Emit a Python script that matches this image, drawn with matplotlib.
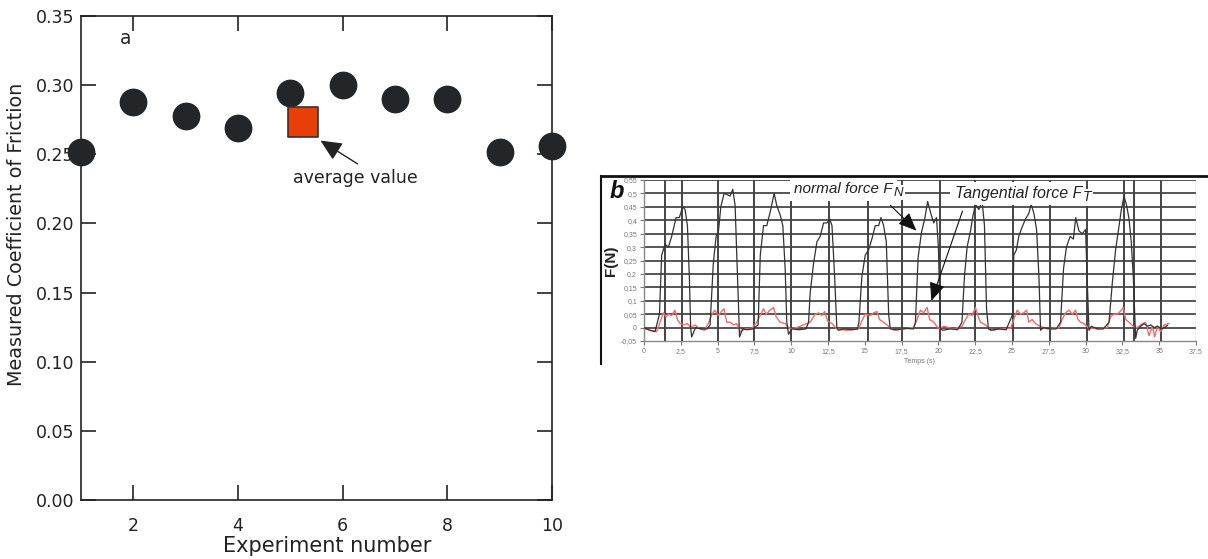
import matplotlib
matplotlib.use("Agg")
import matplotlib.pyplot as plt
from matplotlib.lines import Line2D
from matplotlib.ticker import FuncFormatter

plt.rcParams['font.family'] = ['Liberation Sans', 'DejaVu Sans']

# ---------------- Panel a data ----------------
experiments = [1, 2, 3, 4, 5, 6, 7, 8, 9, 10]
friction = [0.252, 0.288, 0.278, 0.269, 0.294, 0.300, 0.290, 0.290, 0.252, 0.256]
avg_x = 5.25
avg_y = 0.273
a_xticks = [2, 4, 6, 8, 10]
a_yticks = [0.00, 0.05, 0.10, 0.15, 0.20, 0.25, 0.30, 0.35]

# ---------------- Panel b data ----------------
fn_t = [0.0, 0.4, 0.75, 1.05, 1.2, 1.43, 1.66, 1.88, 2.18, 2.4, 2.63, 2.79, 2.95, 3.08, 3.17, 3.24, 3.5, 3.9, 4.3,
        4.49, 4.71, 4.9, 5.06, 5.22, 5.44, 5.67, 5.85, 6.03, 6.19, 6.35, 6.49, 6.7, 7.0, 7.4,
        7.75, 7.9, 8.12, 8.34, 8.57, 8.84, 9.02, 9.25, 9.43, 9.59, 9.7, 9.82, 10.04, 10.5, 11.0,
        11.18, 11.29, 11.52, 11.75, 11.97, 12.2, 12.43, 12.61, 12.77, 12.95, 13.1, 13.2, 13.6, 14.1, 14.5,
        14.6, 14.8, 15.03, 15.26, 15.48, 15.71, 15.94, 16.1, 16.28, 16.46, 16.62, 16.73, 17.2, 17.8, 18.3,
        18.44, 18.62, 18.85, 19.07, 19.27, 19.46, 19.68, 19.87, 20.0, 20.14, 20.3, 20.8, 21.3,
        21.6, 21.77, 21.95, 22.18, 22.36, 22.52, 22.75, 22.97, 23.13, 23.27, 23.4, 23.6, 24.1, 24.6,
        25.05, 25.12, 25.3, 25.46, 25.69, 25.92, 26.14, 26.3, 26.49, 26.67, 26.83, 26.94, 27.12, 27.6, 28.0,
        28.3, 28.5, 28.7, 28.95, 29.17, 29.33, 29.55, 29.78, 30.0, 30.1, 30.23, 30.39, 30.8, 31.2,
        31.59, 31.82, 32.04, 32.27, 32.43, 32.61, 32.79, 32.95, 33.1, 33.24, 33.4, 33.51, 33.74, 33.97,
        34.2, 34.42, 34.65, 34.88, 35.2, 35.56]
fn_v = [0.0, -0.01, -0.015, 0.05, 0.27, 0.31, 0.30, 0.34, 0.41, 0.41, 0.45, 0.44, 0.38, 0.19, 0.0, -0.035, 0.0, -0.005, -0.005,
        0.01, 0.24, 0.34, 0.36, 0.45, 0.50, 0.495, 0.49, 0.515, 0.455, 0.19, -0.035, -0.005, -0.008, -0.005,
        0.01, 0.27, 0.38, 0.38, 0.43, 0.50, 0.455, 0.42, 0.38, 0.22, 0.02, -0.025, -0.005, -0.008, -0.005,
        0.02, 0.13, 0.24, 0.32, 0.34, 0.39, 0.39, 0.405, 0.38, 0.19, 0.0, -0.01, -0.005, -0.008, -0.005,
        0.02, 0.19, 0.27, 0.29, 0.33, 0.38, 0.38, 0.41, 0.38, 0.32, 0.05, -0.005, -0.008, -0.003, -0.005,
        0.02, 0.26, 0.355, 0.405, 0.47, 0.43, 0.39, 0.41, 0.30, -0.005, -0.01, -0.005, -0.008,
        0.02, 0.19, 0.30, 0.36, 0.42, 0.46, 0.44, 0.47, 0.38, 0.07, -0.005, -0.01, -0.005, -0.008,
        0.05, 0.27, 0.29, 0.34, 0.375, 0.405, 0.425, 0.46, 0.425, 0.365, 0.19, -0.01, 0.0, -0.005, -0.005,
        0.02, 0.22, 0.30, 0.34, 0.33, 0.41, 0.36, 0.35, 0.365, 0.19, -0.01, 0.005, -0.005, -0.005,
        0.02, 0.17, 0.29, 0.38, 0.44, 0.49, 0.455, 0.405, 0.32, 0.19, -0.04, -0.01, 0.005, 0.015,
        0.005, 0.01, 0.0, 0.005, -0.005, 0.008]

ft_t = [0.07, 0.41, 0.86, 1.09, 1.32, 1.5, 1.66, 1.88, 2.1, 2.27, 2.45, 2.67, 2.95, 3.17, 3.47, 3.8, 4.13,
        4.36, 4.58, 4.8, 5.06, 5.26, 5.44, 5.62, 5.85, 6.08, 6.3, 6.53, 6.87, 7.3,
        7.66, 7.89, 8.12, 8.3, 8.57, 8.8, 8.98, 9.25, 9.59, 9.93, 10.38,
        11.29, 11.63, 11.86, 12.09, 12.27, 12.47, 12.77, 13.1, 13.79, 14.58,
        14.8, 15.03, 15.37, 15.6, 15.83, 16.0, 16.28, 16.62, 16.96, 17.64, 18.32,
        18.55, 18.78, 19.0, 19.23, 19.41, 19.68, 20.02, 20.36, 21.04, 21.6,
        21.84, 22.07, 22.29, 22.52, 22.68, 22.86, 23.2, 23.54, 24.22, 24.9,
        25.12, 25.35, 25.58, 25.8, 25.99, 26.14, 26.37, 26.6, 26.9, 27.39, 28.19,
        28.41, 28.64, 28.87, 29.1, 29.33, 29.48, 29.66, 29.89, 30.16, 30.8, 31.48,
        31.7, 31.93, 32.16, 32.43, 32.56, 32.72, 32.95, 33.24, 33.51, 33.74, 34.08, 34.31,
        34.54, 34.69, 34.88, 35.1, 35.33, 35.67]
ft_v = [-0.005, -0.01, -0.015, 0.02, 0.055, 0.04, 0.05, 0.045, 0.065, 0.03, 0.015, 0.01, 0.015, 0.0, 0.01, -0.005, -0.01,
        0.015, 0.045, 0.065, 0.045, 0.06, 0.07, 0.02, 0.02, 0.01, 0.015, -0.015, -0.005, -0.005,
        0.02, 0.045, 0.07, 0.05, 0.065, 0.075, 0.04, 0.02, 0.015, -0.005, 0.0,
        0.02, 0.05, 0.055, 0.045, 0.06, 0.025, 0.015, -0.005, -0.01, -0.005,
        0.025, 0.05, 0.045, 0.055, 0.06, 0.03, 0.02, 0.005, -0.01, -0.005, 0.0,
        0.03, 0.065, 0.055, 0.075, 0.03, 0.02, -0.005, 0.005, -0.005, 0.005,
        0.03, 0.05, 0.045, 0.075, 0.045, 0.02, 0.01, -0.01, -0.005, -0.003,
        0.03, 0.065, 0.05, 0.055, 0.065, 0.02, 0.03, 0.015, 0.005, -0.005, 0.0,
        0.03, 0.055, 0.065, 0.05, 0.065, 0.03, 0.02, 0.015, 0.0, -0.005, 0.0,
        0.04, 0.05, 0.05, 0.065, 0.075, 0.03, 0.02, 0.005, 0.0, 0.01, 0.02, -0.03,
        0.005, -0.035, 0.005, -0.015, 0.01, 0.015]

b_xticks = [0, 2.5, 5, 7.5, 10, 12.5, 15, 17.5, 20, 22.5, 25, 27.5, 30, 32.5, 35, 37.5]
b_yticks = [-0.05, 0, 0.05, 0.1, 0.15, 0.2, 0.25, 0.3, 0.35, 0.4, 0.45, 0.5, 0.55]
b_vlines = [1.4, 2.6, 5.0, 7.5, 10.0, 12.6, 15.2, 17.5, 20.1, 22.5, 25.1, 27.6, 30.1, 32.6, 33.3, 35.1]

W, H = 1208, 559
fig = plt.figure(figsize=(W / 100, H / 100), dpi=100)

FA = 'DejaVu Sans'

# ================= Panel a =================
axa = fig.add_axes([81 / W, 1 - 500 / H, (552 - 81) / W, (500 - 16) / H])
axa.scatter(experiments, friction, s=19 ** 2, color='#222628', zorder=3, clip_on=False)
axa.scatter([avg_x], [avg_y], s=22 ** 2, marker='s', facecolor='#e83e08',
            edgecolor='#333333', linewidth=1.2, zorder=4, clip_on=False)
axa.set_xlim(1, 10)
axa.set_ylim(0, 0.35)
axa.set_xticks(a_xticks)
axa.set_yticks(a_yticks)
axa.yaxis.set_major_formatter(FuncFormatter(lambda v, p: f"{v:.2f}"))
axa.tick_params(direction='in', length=11, width=1.2, top=True, right=True,
                labelsize=12.5, colors='#222222')
axa.tick_params(axis='x', pad=12)
axa.tick_params(axis='y', pad=5)
for lab in axa.get_xticklabels() + axa.get_yticklabels():
    lab.set_family(FA)
for sp in axa.spines.values():
    sp.set_linewidth(1.2)
    sp.set_color('#222222')
axa.set_xlabel('Experiment number', fontsize=15, color='#222222', family=FA)
axa.set_ylabel('Measured Coefficient of Friction', fontsize=13.8, color='#222222', family=FA)
axa.xaxis.set_label_coords(0.522, -0.074)
axa.yaxis.set_label_coords(-0.117, 0.548)
axa.text(1.85, 0.334, 'a', fontsize=13.5, color='#222222', ha='center', va='center', family=FA)
axa.annotate('', xy=(5.53, 0.261), xytext=(6.33, 0.242),
             arrowprops=dict(arrowstyle='-|>,head_length=0.65,head_width=0.3',
                             mutation_scale=20, color='#222222', lw=1.0))
axa.text(6.24, 0.233, 'average value', fontsize=12.5, color='#222222', ha='center', va='center', family=FA)

# ================= Panel b =================
axb = fig.add_axes([644 / W, 1 - 341 / H, (1196 - 644) / W, (341 - 180) / H])
axb.set_xlim(0, 37.5)
axb.set_ylim(-0.05, 0.55)
for yv in b_yticks[1:]:
    axb.axhline(yv, color='#555555', lw=1.4, zorder=1)
for xv in b_vlines:
    axb.axvline(xv, color='#444444', lw=1.4, zorder=1)
axb.axvline(37.5, color='#aaaaaa', lw=1.0, zorder=1)
axb.plot(ft_t, ft_v, color='#f46a6a', lw=1.0, zorder=2)
axb.plot(fn_t, fn_v, color='#333333', lw=0.9, zorder=3)
axb.set_xticks(b_xticks)
axb.set_yticks(b_yticks)
axb.xaxis.set_major_formatter(FuncFormatter(lambda v, p: ('%g' % v).replace('.', ',')))
axb.yaxis.set_major_formatter(FuncFormatter(lambda v, p: ('%g' % v).replace('.', ',')))
axb.tick_params(direction='out', length=3, width=0.8, labelsize=5, colors='#777777', pad=2)
for s in ['top', 'right']:
    axb.spines[s].set_visible(False)
for s in ['left', 'bottom']:
    axb.spines[s].set_color('#888888')
    axb.spines[s].set_linewidth(1.0)
axb.set_xlabel('Temps (s)', fontsize=5, color='#777777', labelpad=2)
axb.set_ylabel('F(N)', fontsize=11, fontweight='bold', color='#222222', labelpad=2)

# labels with large subscripts
t1 = axb.text(10.2, 0.515, 'normal force F', fontsize=11, style='italic', color='#222222',
              ha='left', va='center', zorder=5,
              bbox=dict(facecolor='white', edgecolor='none', pad=3))
axb.annotate('N', xy=(1.0, 0.0), xycoords=t1, xytext=(0.5, 2.5), textcoords='offset points',
             fontsize=9.5, style='italic', color='#222222', ha='left', va='center', zorder=6,
             bbox=dict(facecolor='white', edgecolor='none', pad=1))
t2 = axb.text(21.1, 0.50, 'Tangential force F', fontsize=11.5, style='italic', color='#222222',
              ha='left', va='center', zorder=5,
              bbox=dict(facecolor='white', edgecolor='none', pad=3))
axb.annotate('T', xy=(1.0, 0.0), xycoords=t2, xytext=(0.5, 2.5), textcoords='offset points',
             fontsize=10, style='italic', color='#222222', ha='left', va='center', zorder=6,
             bbox=dict(facecolor='white', edgecolor='none', pad=1))

axb.annotate('', xy=(18.64, 0.354), xytext=(16.6, 0.463),
             arrowprops=dict(arrowstyle='-|>,head_length=0.7,head_width=0.3',
                             mutation_scale=16, color='#111111', lw=0.8),
             zorder=7)
axb.annotate('', xy=(19.46, 0.09), xytext=(21.7, 0.444),
             arrowprops=dict(arrowstyle='-|>,head_length=0.7,head_width=0.3',
                             mutation_scale=16, color='#111111', lw=0.8),
             zorder=7)

# frame around panel b
fig.add_artist(Line2D([601 / W, 1.0], [1 - 176 / H, 1 - 176 / H], color='#111111', lw=2))
fig.add_artist(Line2D([601 / W, 601 / W], [1 - 176 / H, 1 - 364 / H], color='#111111', lw=1.5))
fig.text(617 / W, 1 - 191 / H, 'b', fontsize=17, fontweight='bold', style='italic',
         color='#111111', ha='center', va='center')

fig.savefig('out.png', dpi=100)
